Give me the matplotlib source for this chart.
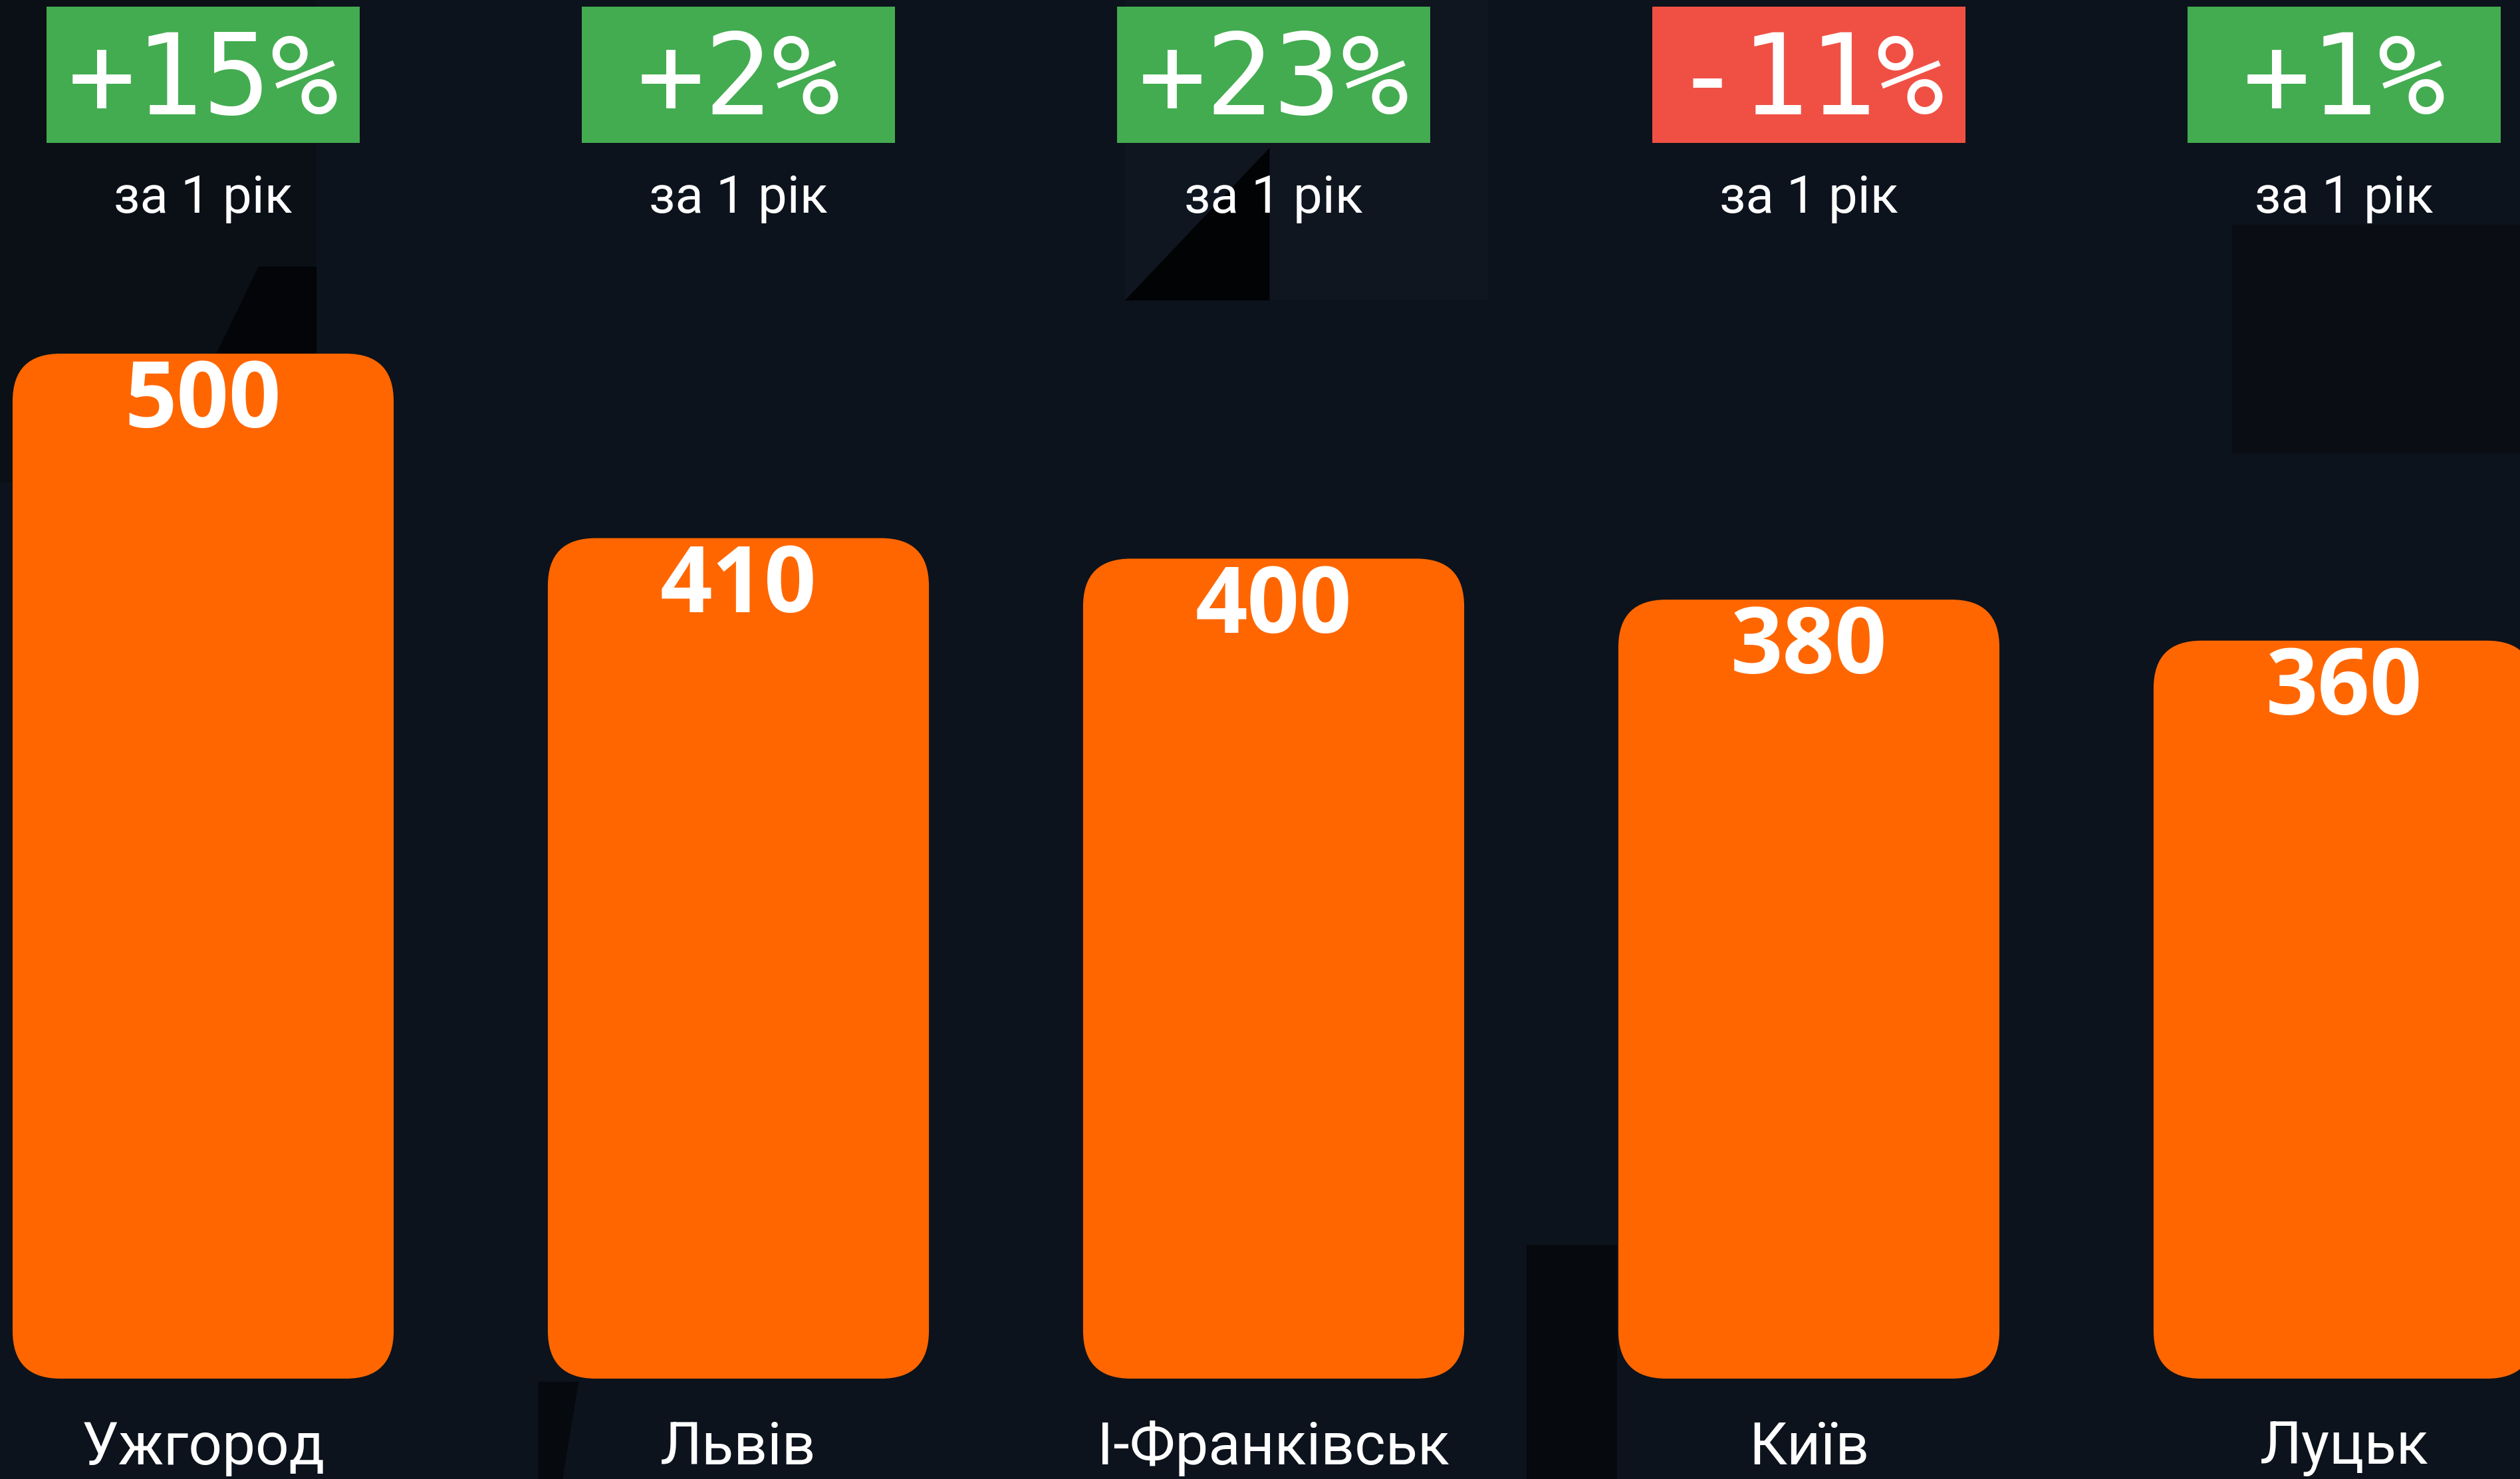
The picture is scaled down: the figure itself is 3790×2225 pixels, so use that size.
import matplotlib
matplotlib.use('Agg')
import matplotlib.pyplot as plt
from matplotlib.patches import FancyBboxPatch, Rectangle, Polygon
import matplotlib.transforms as mtransforms

cities = ['Ужгород', 'Львів', 'І-Франківськ', 'Київ', 'Луцьк']
values = [500, 410, 400, 380, 360]
changes = [15, 2, 23, -11, 1]
period = 'за 1 рік'

bg = '#0d131c'
orange = '#ff6600'
green = '#43ac50'
red = '#f05044'

W, H = 3790, 2225
fig = plt.figure(figsize=(W / 100, H / 100), dpi=100, facecolor=bg)
ax = fig.add_axes([0, 0, 1, 1])
xmin, xmax = -0.3795, 4.3286
ymin, ymax = -48.96, 672.5
ax.set_xlim(xmin, xmax)
ax.set_ylim(ymin, ymax)
ax.axis('off')


# faint background facets, given in px of the 1568-wide preview
def shade(pts, color):
    p = [(x * 2.417 / W, 1 - y * 2.417 / H) for x, y in pts]
    ax.add_patch(Polygon(p, closed=True, transform=fig.transFigure,
                         facecolor=color, edgecolor='none', zorder=0.5))


shade([(0, 0), (197, 0), (197, 300), (0, 300)], '#0b1017')
shade([(161, 166), (197, 166), (197, 240), (125, 240)], '#030508')
shade([(700, 0), (926, 0), (926, 187), (700, 187)], '#0f1620')
shade([(700, 187), (790, 92), (790, 187)], '#020304')
shade([(1389, 140), (1568, 140), (1568, 282), (1389, 282)], '#0a0e14')
shade([(950, 775), (1006, 775), (1006, 921), (950, 921)], '#06090d')
shade([(335, 860), (360, 860), (350, 921), (335, 921)], '#06090d')

# rounded bars
bar_w = 0.712
px_x = W / (xmax - xmin)
px_y = H / (ymax - ymin)
aspect = px_x / px_y
r = 72 / px_x
for i, v in enumerate(values):
    ax.add_patch(FancyBboxPatch((i - bar_w / 2, 0), bar_w, v,
                                boxstyle=f'round,pad=0,rounding_size={r}',
                                mutation_aspect=aspect, facecolor=orange,
                                edgecolor='none', zorder=2))
    ax.annotate(str(v), (i, v), xytext=(0, -80), textcoords='offset points',
                ha='center', va='baseline', color='white', fontsize=99,
                fontweight='bold', family='Open Sans', zorder=3)

# change badges on top
trans = mtransforms.blended_transform_factory(ax.transData, ax.transAxes)
box_w = 0.585
for i, c in enumerate(changes):
    col = green if c >= 0 else red
    ax.add_patch(Rectangle((i - box_w / 2, 0.9034), box_w, 0.0921,
                           transform=trans, facecolor=col, edgecolor='none',
                           zorder=3))
    ax.text(i, 0.944, f'{c:+d}%', transform=trans, ha='center', va='center',
            color='white', fontsize=122, family='DejaVu Sans Mono', zorder=4)
    ax.text(i, 0.866, period, transform=trans, ha='center', va='center',
            color='white', fontsize=56, family='Roboto', zorder=4)

# city names
for i, name in enumerate(cities):
    ax.text(i, 0.021, name, transform=trans, ha='center', va='center',
            color='white', fontsize=64, family='Roboto', zorder=4)

fig.savefig('out.png', dpi=100, facecolor=fig.get_facecolor())
